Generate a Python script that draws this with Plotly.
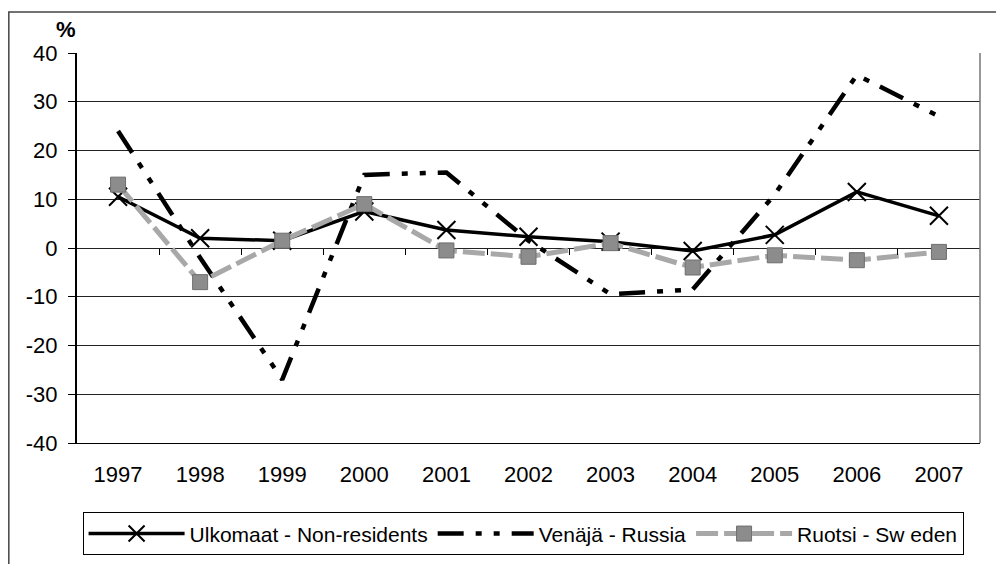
import plotly.graph_objects as go

years = ["1997", "1998", "1999", "2000", "2001", "2002", "2003", "2004", "2005", "2006", "2007"]
non_residents = [10.5, 2, 1.5, 7.5, 3.7, 2.3, 1.3, -0.6, 2.7, 11.5, 6.6]
russia = [24, -2, -27, 15, 15.5, 1.5, -9.5, -8.5, 11, 35.5, 27]
sweden = [13, -7, 1.5, 9, -0.5, -1.8, 1, -4, -1.5, -2.5, -0.8]
y_ticks = [40, 30, 20, 10, 0, -10, -20, -30, -40]
y_tick_text = ["40", "30", "20", "10", "0", "-10", "-20", "-30", "-40"]

font = dict(family="Liberation Sans, Arial, sans-serif", size=21, color="black")

fig = go.Figure()

fig.add_trace(go.Scatter(
    x=years, y=non_residents, name="Ulkomaat - Non-residents",
    mode="lines+markers",
    line=dict(color="black", width=3.5),
    marker=dict(symbol="x-thin", size=18, line=dict(width=2, color="black")),
))
fig.add_trace(go.Scatter(
    x=years, y=russia, name="Venäjä - Russia",
    mode="lines",
    line=dict(color="black", width=4.5, dash="26px,12px,6px,12px,6px,12px"),
))
fig.add_trace(go.Scatter(
    x=years, y=sweden, name="Ruotsi - Sw eden",
    mode="lines+markers",
    line=dict(color="#a8a8a8", width=5, dash="22px,6px"),
    marker=dict(symbol="square", size=15, color="#8c8c8c", line=dict(width=1, color="#6e6e6e")),
))

# invisible trace so the zero-crossing tick axis is drawn
fig.add_trace(go.Scatter(x=[0], y=[0], xaxis="x2", mode="markers",
                         marker=dict(opacity=0), showlegend=False, hoverinfo="skip"))

fig.update_layout(
    width=1004, height=564,
    paper_bgcolor="white", plot_bgcolor="white",
    font=font,
    margin=dict(l=69, r=32, t=45, b=129),
    showlegend=True,
    legend=dict(
        orientation="h", x=0.494, xanchor="center", y=-0.178, yanchor="top",
        bordercolor="black", borderwidth=1, font=dict(size=21),
        itemwidth=96, tracegroupgap=0,
    ),
    xaxis=dict(
        type="category", categoryorder="array", categoryarray=years,
        range=[-0.5, 10.5], showgrid=False, showline=True, linecolor="black",
        linewidth=1, ticks="", tickfont=dict(size=22), ticklabelstandoff=12,
    ),
    xaxis2=dict(
        overlaying="x", anchor="free", position=0.5, range=[-0.5, 10.5],
        tickvals=[i + 0.5 for i in range(len(years) - 1)],
        ticks="outside", ticklen=6, tickcolor="black", showticklabels=False,
        showgrid=False, showline=False, zeroline=False,
    ),
    yaxis=dict(
        range=[-40, 40], tickvals=y_ticks, ticktext=y_tick_text,
        showgrid=True, gridcolor="#222222",
        gridwidth=1, zeroline=False, showline=True, linecolor="black", linewidth=2,
        ticks="outside", ticklen=7, tickcolor="black", tickfont=dict(size=22),
        ticklabelstandoff=6,
    ),
    shapes=[
        dict(type="rect", xref="paper", yref="paper", x0=1, x1=1, y0=0, y1=1,
             line=dict(color="#777777", width=1.5, dash="dot")),
        dict(type="rect", xref="paper", yref="paper", x0=-0.0755, x1=1.05, y0=-0.5, y1=1.105,
             line=dict(color="#444444", width=1.5)),
    ],
    annotations=[
        dict(text="<b>%</b>", xref="paper", yref="paper", x=0.001, y=1.022,
             xanchor="right", yanchor="bottom", showarrow=False, font=dict(size=22)),
    ],
)

fig.write_html("out.html")
